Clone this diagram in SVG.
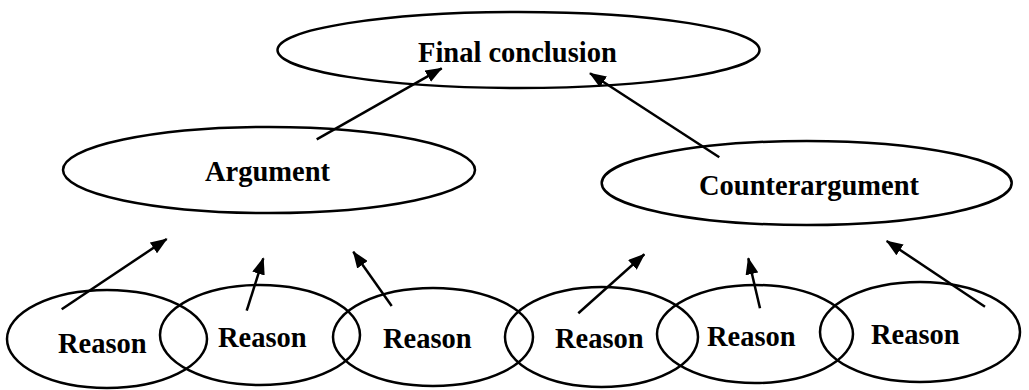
<svg xmlns="http://www.w3.org/2000/svg" width="1029" height="390" viewBox="0 0 1029 390">
<style>
.n{fill:none;stroke:#000;stroke-width:2.5}
.t{font-family:"Liberation Serif","Times New Roman",serif;font-weight:bold;font-size:28.5px;fill:#000}
.c{stroke:#000;stroke-width:2.5;fill:none;marker-end:url(#ah)}
</style>
<defs>
<marker id="ah" markerUnits="userSpaceOnUse" markerWidth="17" markerHeight="13" refX="16" refY="6.5" orient="auto">
<path d="M0,0 L17,6.5 L0,13 z" fill="#000"/>
</marker>
</defs>
<rect width="1029" height="390" fill="#fff"/>
<g id="final"><ellipse class="n" cx="518.5" cy="50" rx="241" ry="38"/><text class="t" x="418" y="62">Final conclusion</text></g>
<g id="argument"><ellipse class="n" cx="269" cy="170" rx="206" ry="43"/><text class="t" x="205" y="181">Argument</text></g>
<g id="counterargument"><ellipse class="n" cx="806.7" cy="183" rx="205" ry="42"/><text class="t" x="699" y="195">Counterargument</text></g>
<g id="reason1"><ellipse class="n" cx="107" cy="339" rx="100" ry="49"/><text class="t" x="58" y="353">Reason</text></g>
<g id="reason2"><ellipse class="n" cx="260" cy="335" rx="100" ry="50"/><text class="t" x="218" y="347">Reason</text></g>
<g id="reason3"><ellipse class="n" cx="433" cy="337" rx="100" ry="49"/><text class="t" x="383" y="348">Reason</text></g>
<g id="reason4"><ellipse class="n" cx="601.5" cy="337" rx="96.5" ry="50"/><text class="t" x="555" y="348">Reason</text></g>
<g id="reason5"><ellipse class="n" cx="755" cy="334" rx="98" ry="49"/><text class="t" x="707" y="346">Reason</text></g>
<g id="reason6"><ellipse class="n" cx="920" cy="332" rx="100" ry="50"/><text class="t" x="871" y="344">Reason</text></g>
<g id="connectors">
<line class="c" x1="316.7" y1="139.3" x2="441.7" y2="68.3"/>
<line class="c" x1="719.3" y1="157.3" x2="590" y2="73.3"/>
<line class="c" x1="61.7" y1="309.3" x2="166.7" y2="239"/>
<line class="c" x1="246.7" y1="310.7" x2="263.3" y2="258.3"/>
<line class="c" x1="391.7" y1="306" x2="353.3" y2="251.7"/>
<line class="c" x1="578.3" y1="313.3" x2="644.3" y2="254.3"/>
<line class="c" x1="760" y1="308.3" x2="748.3" y2="258.3"/>
<line class="c" x1="985" y1="306.7" x2="886.7" y2="241"/>
</g>
</svg>
